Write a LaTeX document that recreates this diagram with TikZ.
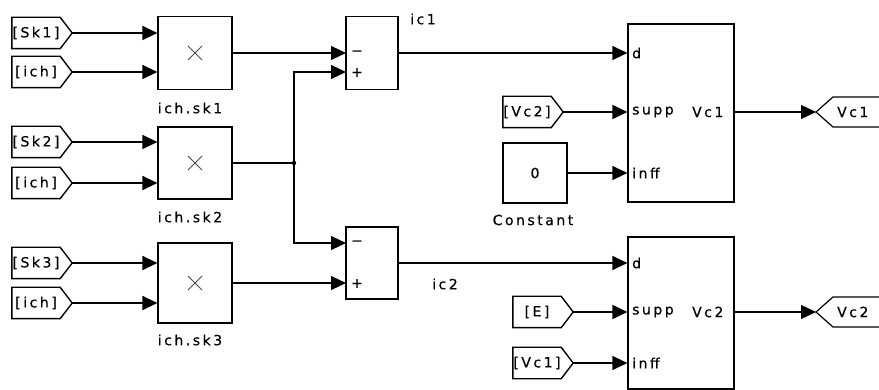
\documentclass[tikz,border=0pt]{standalone}
\usepackage{fontspec}
\setmainfont{DejaVu Sans}[LetterSpace=18, FakeBold=0.5]
\usetikzlibrary{arrows.meta}
\tikzset{
  wire/.style={line width=1.2pt},
  arr/.style={line width=1.2pt, -{Triangle[length=15pt,width=14pt]}},
  blk/.style={draw, line width=1.2pt, inner sep=0pt},
  txt/.style={inner sep=0pt, font=\fontsize{14}{16}\selectfont},
  tagin/.style={txt, minimum width=48pt, minimum height=31pt,
    append after command={\pgfextra{\draw[line width=1.4pt, line join=miter]
      (\tikzlastnode.north west) -- (\tikzlastnode.north east) --
      ([xshift=12pt]\tikzlastnode.east) -- (\tikzlastnode.south east) --
      (\tikzlastnode.south west) -- cycle;}}},
}
\begin{document}
\begin{tikzpicture}[x=1pt,y=-1pt]
\clip (0,0) rectangle (879,390);
\fill[white] (0,0) rectangle (879,390);

% left tags
\node[tagin] (tS1) at (36,33) {[Sk1]};
\node[tagin] (tI1) at (36,72) {[ich]};
\node[tagin] (tS2) at (36,142) {[Sk2]};
\node[tagin] (tI2) at (36,183) {[ich]};
\node[tagin] (tS3) at (36,263) {[Sk3]};
\node[tagin] (tI3) at (36,303) {[ich]};

% products
\node[blk, minimum width=74pt, minimum height=73pt] (p1) at (195,53) {};
\node[blk, minimum width=74pt, minimum height=72pt] (p2) at (195,163) {};
\node[blk, minimum width=74pt, minimum height=80pt] (p3) at (195,283) {};
\foreach \p in {p1,p2,p3}{
  \draw[line width=0.9pt, black!70] ([shift={(-7pt,-7pt)}]\p.center) -- ([shift={(7pt,7pt)}]\p.center)
        ([shift={(-7pt,7pt)}]\p.center) -- ([shift={(7pt,-7pt)}]\p.center);
}
\node[txt] (lp1) at (190,108) {ich.sk1};
\node[txt] (lp2) at (190,217) {ich.sk2};
\node[txt] (lp3) at (190,340) {ich.sk3};

\draw[arr] ([xshift=12pt]tS1.east) -- (tS1.east -| p1.west);
\draw[arr] ([xshift=12pt]tI1.east) -- (tI1.east -| p1.west);
\draw[arr] ([xshift=12pt]tS2.east) -- (tS2.east -| p2.west);
\draw[arr] ([xshift=12pt]tI2.east) -- (tI2.east -| p2.west);
\draw[arr] ([xshift=12pt]tS3.east) -- (tS3.east -| p3.west);
\draw[arr] ([xshift=12pt]tI3.east) -- (tI3.east -| p3.west);

% sums
\node[blk, minimum width=52pt, minimum height=73pt] (s1) at (372,53) {};
\node[blk, minimum width=52pt, minimum height=72pt] (s2) at (372,263) {};
\coordinate (s1m) at (346,53);
\coordinate (s1p) at (346,72);
\coordinate (s2m) at (346,243);
\coordinate (s2p) at (346,283);
\node[txt] (s1ms) at (357,53) {−};
\node[txt] (s1ps) at (357,72.5) {+};
\node[txt] (s2ms) at (357,243) {−};
\node[txt] (s2ps) at (357,283.5) {+};
\node[txt] (lic1) at (423,19) {ic1};
\node[txt] (lic2) at (445,284) {ic2};

\coordinate (j) at (294,163);
\draw[arr] (p1.east) -- (s1m);
\draw[wire] (p2.east) -- (j);
\draw[arr] (j) |- (s1p);
\draw[arr] (j) |- (s2m);
\fill (j) circle (2.2pt);
\draw[arr] (p3.east) -- (s2p);

% subsystems
\node[blk, minimum width=106pt, minimum height=178pt] (sub1) at (681,113) {};
\node[blk, minimum width=106pt, minimum height=152pt] (sub2) at (681,313) {};
\node[txt, anchor=west] (d1) at (632,53) {d};
\node[txt, anchor=west] (su1) at (632,112) {supp};
\node[txt, anchor=west] (in1) at (632,173) {inff};
\node[txt, anchor=west] (o1) at (692,112) {Vc1};
\node[txt, anchor=west] (d2) at (632,263) {d};
\node[txt, anchor=west] (su2) at (632,312) {supp};
\node[txt, anchor=west] (in2) at (632,363) {inff};
\node[txt, anchor=west] (o2) at (692,312) {Vc2};

\draw[arr] (s1.east) -- (s1.east -| sub1.west);
\draw[arr] (s2.east) -- (s2.east -| sub2.west);

% middle sources
\node[tagin] (tV2) at (527,112) {[Vc2]};
\node[blk, minimum width=64pt, minimum height=60pt] (const) at (535,173) {};
\node[txt] (c0) at (const.center) {0};
\node[txt] (lconst) at (533,220) {Constant};
\node[tagin] (tE) at (537,312) {[E]};
\node[tagin] (tV1) at (537,363) {[Vc1]};

\draw[arr] ([xshift=12pt]tV2.east) -- (tV2.east -| sub1.west);
\draw[arr] (const.east) -- (const.east -| sub1.west);
\draw[arr] ([xshift=12pt]tE.east) -- (tE.east -| sub2.west);
\draw[arr] ([xshift=12pt]tV1.east) -- (tV1.east -| sub2.west);

% right goto tags
\coordinate (g1) at (816,112);
\coordinate (g2) at (816,312);
\draw[line width=1.2pt] (885,97) -- (833,97) -- (g1) -- (833,127) -- (885,127);
\draw[line width=1.2pt] (885,297) -- (833,297) -- (g2) -- (833,327) -- (885,327);
\node[txt, anchor=west] (gv1) at (837,112) {Vc1};
\node[txt, anchor=west] (gv2) at (837,312) {Vc2};

\draw[arr] (sub1.east |- o1) -- (g1);
\draw[arr] (sub2.east |- o2) -- (g2);
\end{tikzpicture}
\end{document}
